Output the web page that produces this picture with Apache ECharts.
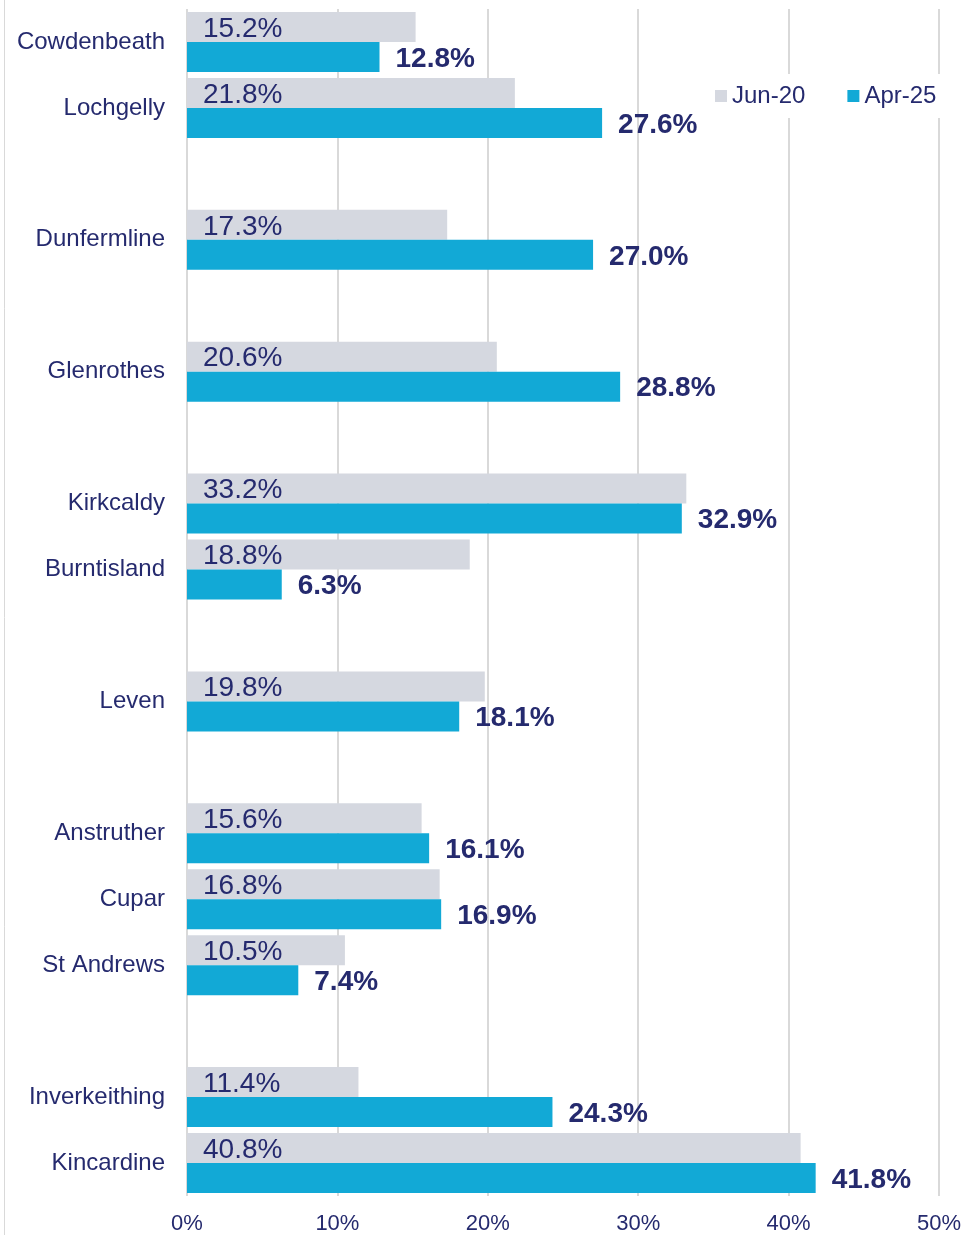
<!DOCTYPE html>
<html><head><meta charset="utf-8">
<script src="https://cdn.jsdelivr.net/npm/echarts@6/dist/echarts.min.js"></script>
<style>html,body{margin:0;padding:0;background:#fff}#c{width:964px;height:1235px}</style>
</head><body><div id="c"></div>
<script>
const categories = ['Cowdenbeath','Lochgelly','','Dunfermline','','Glenrothes','','Kirkcaldy','Burntisland','','Leven','','Anstruther','Cupar','St Andrews','','Inverkeithing','Kincardine'];
const jun20 = [15.2, 21.8, '-', 17.3, '-', 20.6, '-', 33.2, 18.8, '-', 19.8, '-', 15.6, 16.8, 10.5, '-', 11.4, 40.8];
const apr25 = [12.8, 27.6, '-', 27.0, '-', 28.8, '-', 32.9, 6.3, '-', 18.1, '-', 16.1, 16.9, 7.4, '-', 24.3, 41.8];
const xTicks = [0, 10, 20, 30, 40, 50];

const navy = '#252a6e';
const font = 'Liberation Sans, Arial, sans-serif';
const chart = echarts.init(document.getElementById('c'));
chart.setOption({
  animation: false,
  backgroundColor: '#fff',
  textStyle: { fontFamily: font },
  graphic: [{ type: 'line', shape: { x1: 4.5, y1: 0, x2: 4.5, y2: 1235 }, style: { stroke: '#d9d9d9', lineWidth: 1 } }],
  grid: { left: 187, right: 24, top: 9, bottom: 38, containLabel: false },
  legend: {
    data: ['Jun-20', 'Apr-25'],
    left: 705, top: 74,
    backgroundColor: '#fff',
    padding: [10, 10],
    icon: 'rect', itemWidth: 12, itemHeight: 12, itemGap: 42,
    textStyle: { color: navy, fontSize: 24, fontFamily: font }
  },
  xAxis: {
    type: 'value', min: 0, max: 50, interval: 10,
    axisLine: { show: false }, axisTick: { show: false },
    splitLine: { lineStyle: { color: '#d9d9d9', width: 2 } },
    axisLabel: { color: navy, fontSize: 22, margin: 17, fontFamily: font,
      formatter: v => xTicks.includes(v) ? v + '%' : '' }
  },
  yAxis: {
    type: 'category', data: categories, inverse: true,
    axisLine: { show: false }, axisTick: { show: false },
    axisLabel: { color: navy, fontSize: 24, margin: 22, fontFamily: font, interval: 0 }
  },
  series: [
    { name: 'Jun-20', type: 'bar', data: jun20, barGap: '0%', barCategoryGap: '9%',
      itemStyle: { color: '#d5d8e0' },
      label: { show: true, position: 'insideLeft', distance: 16, color: navy, fontSize: 28, fontFamily: font,
        offset: [0, 2],
        formatter: p => p.value.toFixed(1) + '%' } },
    { name: 'Apr-25', type: 'bar', data: apr25, barGap: '0%', barCategoryGap: '9%',
      itemStyle: { color: '#12a9d6' },
      label: { show: true, position: 'right', distance: 16, color: navy, fontSize: 28, fontWeight: 'bold', fontFamily: font,
        offset: [0, 2],
        formatter: p => p.value.toFixed(1) + '%' } }
  ]
});
</script></body></html>
